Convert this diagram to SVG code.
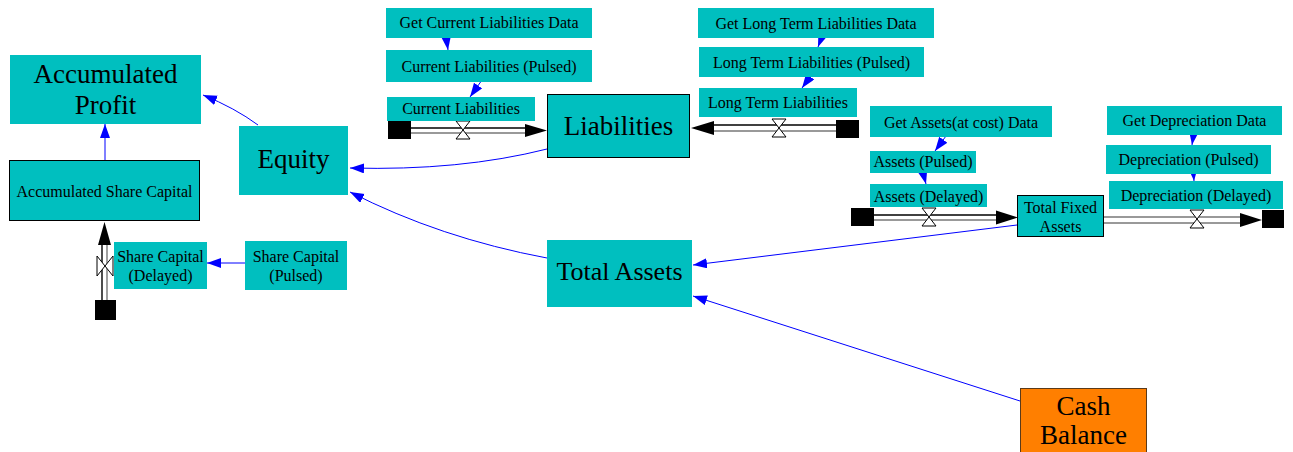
<svg xmlns="http://www.w3.org/2000/svg" width="1293" height="452" viewBox="0 0 1293 452">
<style>
text{font-family:"Liberation Serif","Times New Roman",serif;fill:#000;text-anchor:middle}
.s{font-size:16px}
.l{font-size:27px}
.aux{fill:#00bfbf;stroke:none}
.stock{fill:#00bfbf;stroke:#000;stroke-width:1}
.cn{fill:none;stroke:#0000ff;stroke-width:1}
.pipe{fill:none;stroke:#000;stroke-width:1.4}
.pipe2{fill:none;stroke:#777;stroke-width:1.4}
.cloud{fill:#000}
.valve{fill:#fff;stroke:#000;stroke-width:1}
.fa{fill:#000}
</style>
<defs>
<marker id="ah" markerUnits="userSpaceOnUse" markerWidth="16" markerHeight="12" refX="14" refY="5" orient="auto">
<path d="M0,0 L14,5 L0,10 z" fill="#0000ff"/>
</marker>
</defs>

<g id="connectors">
<path class="cn" d="M258,125 Q235,108 203,95" marker-end="url(#ah)"/>
<path class="cn" d="M547,149 Q460,171 350,168" marker-end="url(#ah)"/>
<path class="cn" d="M547,258 Q440,238 350,192" marker-end="url(#ah)"/>
<path class="cn" d="M1017,225 L693,265" marker-end="url(#ah)"/>
<path class="cn" d="M1020,401 L693,296" marker-end="url(#ah)"/>
<path class="cn" d="M105,160 L105,124" marker-end="url(#ah)"/>
<path class="cn" d="M245,263 L207,263" marker-end="url(#ah)"/>
<path class="cn" d="M446,36 L448,50" marker-end="url(#ah)"/>
<path class="cn" d="M482,80 L470,97" marker-end="url(#ah)"/>
<path class="cn" d="M823,34 L818,47" marker-end="url(#ah)"/>
<path class="cn" d="M812,74 L802,88" marker-end="url(#ah)"/>
<path class="cn" d="M946,136 L935,151" marker-end="url(#ah)"/>
<path class="cn" d="M922,169 L926,184" marker-end="url(#ah)"/>
<path class="cn" d="M1194,131 L1192,145" marker-end="url(#ah)"/>
<path class="cn" d="M1193,167 L1194,181" marker-end="url(#ah)"/>
</g>

<g id="flow-current-liabilities">
<line class="pipe" x1="411" y1="128" x2="526" y2="128"/>
<line class="pipe2" x1="411" y1="133" x2="526" y2="133"/>
<rect class="cloud" x="388" y="121" width="23" height="18"/>
<polygon class="fa" points="525,124 547,130.5 525,137"/>
<path class="valve" d="M456,121 L470,121 L456,139 L470,139 Z"/>
</g>

<g id="flow-long-term-liabilities">
<line class="pipe" x1="713" y1="125" x2="836" y2="125"/>
<line class="pipe2" x1="713" y1="131" x2="836" y2="131"/>
<rect class="cloud" x="836" y="120" width="23" height="18"/>
<polygon class="fa" points="714,121 691,128 714,135"/>
<path class="valve" d="M772,119 L786,119 L772,137 L786,137 Z"/>
</g>

<g id="flow-assets">
<line class="pipe" x1="874" y1="215" x2="997" y2="215"/>
<line class="pipe2" x1="874" y1="220" x2="997" y2="220"/>
<rect class="cloud" x="851" y="208" width="23" height="18"/>
<polygon class="fa" points="996,210.5 1018,217.5 996,224.5"/>
<path class="valve" d="M922,208 L936,208 L922,226 L936,226 Z"/>
</g>

<g id="flow-depreciation">
<line class="pipe2" x1="1104" y1="217" x2="1241" y2="217"/>
<line class="pipe2" x1="1104" y1="223" x2="1241" y2="223"/>
<rect class="cloud" x="1262" y="210" width="22" height="18"/>
<polygon class="fa" points="1240,213 1262,220 1240,227"/>
<path class="valve" d="M1190,210 L1204,210 L1190,228 L1204,228 Z"/>
</g>

<g id="flow-share-capital">
<line class="pipe" x1="102" y1="244" x2="102" y2="300"/>
<line class="pipe2" x1="107" y1="244" x2="107" y2="300"/>
<rect class="cloud" x="95" y="300" width="21" height="20"/>
<polygon class="fa" points="98,245 104.5,222 111,245"/>
<path class="valve" d="M97,256 L97,276 L113,256 L113,276 Z"/>
</g>

<g id="accumulated-profit">
<rect class="aux" x="10" y="55" width="191" height="69"/>
<text class="l" x="105.5" y="83">Accumulated</text>
<text class="l" x="105.5" y="114">Profit</text>
</g>

<g id="equity">
<rect class="aux" x="239" y="126" width="109" height="69"/>
<text class="l" x="293.5" y="168">Equity</text>
</g>

<g id="accumulated-share-capital">
<rect class="stock" x="9.5" y="160.5" width="190" height="60"/>
<text class="s" x="104.5" y="197">Accumulated Share Capital</text>
</g>

<g id="share-capital-delayed">
<rect class="aux" x="114" y="242" width="93" height="47"/>
<text class="s" x="160.5" y="262">Share Capital</text>
<text class="s" x="160.5" y="281">(Delayed)</text>
</g>

<g id="share-capital-pulsed">
<rect class="aux" x="245" y="241" width="102" height="49"/>
<text class="s" x="296" y="262">Share Capital</text>
<text class="s" x="296" y="281">(Pulsed)</text>
</g>

<g id="get-current-liabilities-data">
<rect class="aux" x="386" y="8" width="206" height="30"/>
<text class="s" x="489" y="28">Get Current Liabilities Data</text>
</g>

<g id="current-liabilities-pulsed">
<rect class="aux" x="386" y="50" width="206" height="32"/>
<text class="s" x="489" y="72">Current Liabilities (Pulsed)</text>
</g>

<g id="current-liabilities">
<rect class="aux" x="387" y="97" width="148" height="24"/>
<text class="s" x="461" y="114">Current Liabilities</text>
</g>

<g id="liabilities">
<rect class="stock" x="547.5" y="94.5" width="142" height="63"/>
<text class="l" x="618.5" y="135">Liabilities</text>
</g>

<g id="get-long-term-liabilities-data">
<rect class="aux" x="698" y="8" width="236" height="30"/>
<text class="s" x="816" y="29">Get Long Term Liabilities Data</text>
</g>

<g id="long-term-liabilities-pulsed">
<rect class="aux" x="699" y="47" width="225" height="30"/>
<text class="s" x="811.5" y="68">Long Term Liabilities (Pulsed)</text>
</g>

<g id="long-term-liabilities">
<rect class="aux" x="699" y="88" width="158" height="29"/>
<text class="s" x="778" y="108">Long Term Liabilities</text>
</g>

<g id="get-assets-data">
<rect class="aux" x="870" y="106" width="182" height="31"/>
<text class="s" x="961" y="128">Get Assets(at cost) Data</text>
</g>

<g id="assets-pulsed">
<rect class="aux" x="870" y="151" width="106" height="22"/>
<text class="s" x="923" y="167">Assets (Pulsed)</text>
</g>

<g id="assets-delayed">
<rect class="aux" x="870" y="184" width="117" height="23"/>
<text class="s" x="928.5" y="202">Assets (Delayed)</text>
</g>

<g id="total-fixed-assets">
<rect class="stock" x="1017.5" y="195.5" width="86" height="41"/>
<text class="s" x="1060.5" y="213">Total Fixed</text>
<text class="s" x="1060.5" y="232">Assets</text>
</g>

<g id="get-depreciation-data">
<rect class="aux" x="1107" y="106" width="175" height="29"/>
<text class="s" x="1194.5" y="126">Get Depreciation Data</text>
</g>

<g id="depreciation-pulsed">
<rect class="aux" x="1106" y="145" width="165" height="29"/>
<text class="s" x="1188.5" y="165">Depreciation (Pulsed)</text>
</g>

<g id="depreciation-delayed">
<rect class="aux" x="1109" y="181" width="174" height="28"/>
<text class="s" x="1196" y="201">Depreciation (Delayed)</text>
</g>

<g id="total-assets">
<rect class="aux" x="547" y="240" width="145" height="67"/>
<text class="l" x="619.5" y="280" style="font-size:26px">Total Assets</text>
</g>

<g id="cash-balance">
<rect x="1020.5" y="388.5" width="126" height="80" fill="#ff7f00" stroke="#5a3a1a" stroke-width="1"/>
<text class="l" x="1083.5" y="415">Cash</text>
<text class="l" x="1083.5" y="444">Balance</text>
</g>
</svg>
